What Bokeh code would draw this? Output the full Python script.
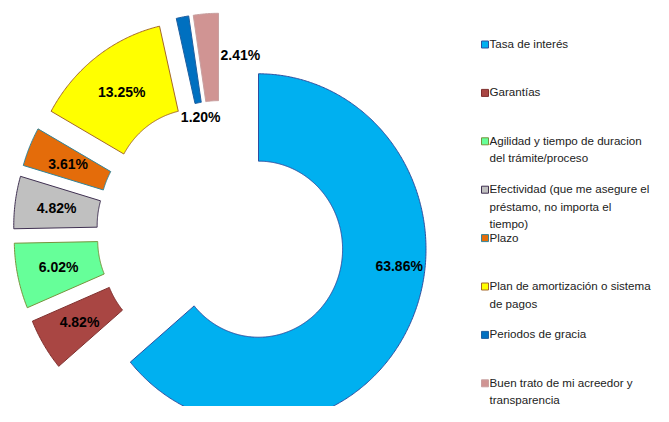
import numpy as np
from bokeh.plotting import figure
from bokeh.models import Range1d, ColumnDataSource
from bokeh.embed import file_html
from bokeh.resources import INLINE
from bokeh.core.properties import value

# ---------------- data ----------------
categories = [
    "Tasa de interés",
    "Garantías",
    "Agilidad y tiempo de duracion\ndel trámite/proceso",
    "Efectividad (que me asegure el\npréstamo, no importa el\ntiempo)",
    "Plazo",
    "Plan de amortización o sistema\nde pagos",
    "Periodos de gracia",
    "Buen trato de mi acreedor y\ntransparencia",
]
percentages = [63.86, 4.82, 6.02, 4.82, 3.61, 13.25, 1.20, 2.41]

# ---------------- style ----------------
fill_colors = ["#00B0F0", "#A94643", "#66FF99", "#C0C0C0",
               "#E46C0A", "#FFFF00", "#0070C0", "#D09493"]
line_colors = ["#2F4F9F", "#7F2F2D", "#77933C", "#403152",
               "#31859C", "#A5682A", "#1F5FA0", "#C8A0A0"]

R_OUT, R_IN, EXPLODE = 1.0, 0.502, 0.243
# label placement (angle offset in degrees from slice mid, radius from slice centre)
label_place = {0: (-18.5, 0.845), 6: (0.0, 0.42), 7: (14.0, 0.776)}
DEFAULT_LABEL_R = (R_OUT + R_IN) / 2

# canvas mapping (pixels per unit, x is slightly compressed)
W, H = 653, 406
PXX, PXY = 167.5, 175.4
CX_PX, CY_PX = 221.1, 230.7
X0, Y1 = -CX_PX / PXX, CY_PX / PXY
x_range = Range1d(X0, X0 + W / PXX)
y_range = Range1d(Y1 - H / PXY, Y1)


def dx(px):
    return X0 + px / PXX


def dy(py):
    return Y1 - py / PXY


p = figure(width=W, height=H, x_range=x_range, y_range=y_range,
           output_backend="svg", toolbar_location=None,
           min_border=0, min_border_left=0, min_border_right=0,
           min_border_top=0, min_border_bottom=0)
p.axis.visible = False
p.grid.visible = False
p.outline_line_color = None
p.background_fill_color = "white"

vals = np.array(percentages)
cum = np.concatenate([[0], np.cumsum(vals)]) / vals.sum() * 360.0

xs, ys, lx, ly, ltxt = [], [], [], [], []
for i, v in enumerate(percentages):
    a0, a1 = np.radians(cum[i]), np.radians(cum[i + 1])
    am = (a0 + a1) / 2
    cx, cy = EXPLODE * np.sin(am), EXPLODE * np.cos(am)
    n = max(8, int(np.degrees(a1 - a0) * 2))
    t = np.linspace(a0, a1, n)
    px = np.concatenate([cx + R_OUT * np.sin(t), cx + R_IN * np.sin(t[::-1])])
    py = np.concatenate([cy + R_OUT * np.cos(t), cy + R_IN * np.cos(t[::-1])])
    xs.append(px.tolist())
    ys.append(py.tolist())
    off, r = label_place.get(i, (0.0, DEFAULT_LABEL_R))
    al = am + np.radians(off)
    lx.append(cx + r * np.sin(al))
    ly.append(cy + r * np.cos(al))
    ltxt.append(f"{v:.2f}%")

src = ColumnDataSource(dict(xs=xs, ys=ys, fill=fill_colors, line=line_colors))
p.patches("xs", "ys", source=src, fill_color="fill", line_color="line",
          line_width=1)

lsrc = ColumnDataSource(dict(x=lx, y=ly, t=ltxt))
p.text("x", "y", text="t", source=lsrc, text_font=value("Liberation Sans"),
       text_font_style="bold", text_font_size="14px", text_color="black",
       text_align="center", text_baseline="middle")

# ---------------- legend ----------------
LEG_X_MARK, LEG_X_TEXT, LEG_Y0, LEG_STEP = 484.5, 489, 44, 48.4
n = len(categories)
mx = [dx(LEG_X_MARK)] * n
my = [dy(LEG_Y0 + i * LEG_STEP) for i in range(n)]
ty = [dy(LEG_Y0 + i * LEG_STEP - 7.5) for i in range(n)]
legsrc = ColumnDataSource(dict(mx=mx, my=my, tx=[dx(LEG_X_TEXT)] * n,
                               ty=ty, lab=categories, fill=fill_colors, line=line_colors))
p.scatter("mx", "my", source=legsrc, marker="square", size=7,
          fill_color="fill", line_color="line", line_width=1)
p.text("tx", "ty", text="lab", source=legsrc, text_font=value("Liberation Sans"),
       text_font_size="11.6px", text_color="#222222", text_align="left",
       text_baseline="top", text_line_height=1.35)

open("out.html", "w").write(file_html(p, INLINE))
